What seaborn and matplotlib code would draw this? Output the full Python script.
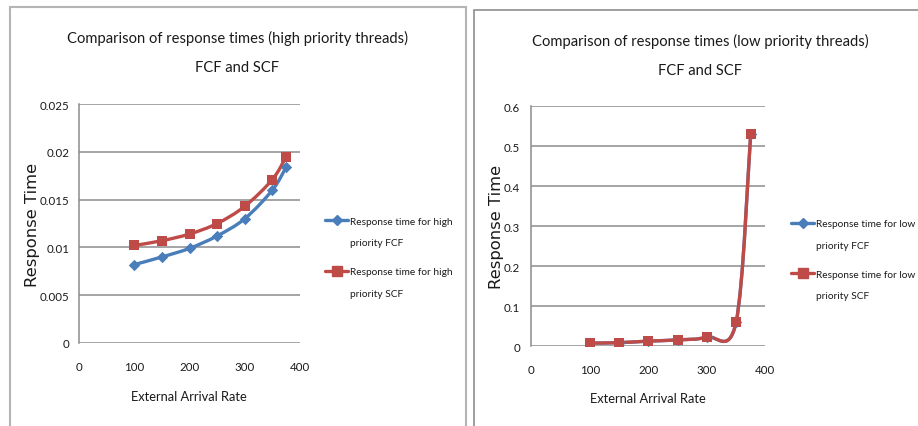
import matplotlib
matplotlib.use("Agg")
import matplotlib.pyplot as plt
from matplotlib.path import Path
from matplotlib.patches import PathPatch, Rectangle
from matplotlib.lines import Line2D
import seaborn as sns
import pandas as pd

# Arrival rates shared by both charts
arrival_rate = [100, 150, 200, 250, 300, 350, 375]

# High priority threads
high_fcf = [0.0082, 0.0090, 0.0099, 0.0112, 0.0130, 0.0160, 0.0184]
high_scf = [0.0102, 0.0107, 0.0114, 0.0125, 0.0143, 0.0171, 0.0195]

# Low priority threads
low_fcf = [0.008, 0.009, 0.013, 0.016, 0.023, 0.060, 0.530]
low_scf = [0.008, 0.009, 0.013, 0.016, 0.023, 0.060, 0.530]

high_ticks = [0, 0.005, 0.01, 0.015, 0.02, 0.025]
high_tick_labels = ["0", "0.005", "0.01", "0.015", "0.02", "0.025"]
low_ticks = [0, 0.1, 0.2, 0.3, 0.4, 0.5, 0.6]
low_tick_labels = ["0", "0.1", "0.2", "0.3", "0.4", "0.5", "0.6"]
x_ticks = [0, 100, 200, 300, 400]

BLUE = "#4A7EBB"
RED = "#BE4B48"
GRID = "#8C8C8C"
TEXT = "#1A1A1A"

sns.set_theme(style="white")
NARROW = ["Lato", "DejaVu Sans"]
plt.rcParams["font.family"] = NARROW


def smooth_path(xs, ys):
    """Excel-style smoothed line: cubic Bezier segments through every point."""
    pts = list(zip(xs, ys))
    n = len(pts)
    verts = [pts[0]]
    codes = [Path.MOVETO]
    for i in range(n - 1):
        p0 = pts[i - 1] if i > 0 else pts[i]
        p1 = pts[i]
        p2 = pts[i + 1]
        p3 = pts[i + 2] if i + 2 < n else pts[i + 1]
        c1 = (p1[0] + (p2[0] - p0[0]) / 6, p1[1] + (p2[1] - p0[1]) / 6)
        c2 = (p2[0] - (p3[0] - p1[0]) / 6, p2[1] - (p3[1] - p1[1]) / 6)
        verts += [c1, c2, p2]
        codes += [Path.CURVE4] * 3
    return Path(verts, codes)


fig = plt.figure(figsize=(9.18, 4.27), dpi=100)
W, H = 918, 427


def fx(px):
    return px / W


def fy(py):
    return 1 - py / H


# Chart frames
fig.patches.append(Rectangle((fx(10), fy(440)), fx(465.5) - fx(10), fy(8) - fy(440),
                             transform=fig.transFigure, fill=False,
                             edgecolor="#B4B4B4", linewidth=1.5))
fig.patches.append(Rectangle((fx(473.5), fy(440)), fx(940) - fx(473.5), fy(11) - fy(440),
                             transform=fig.transFigure, fill=False,
                             edgecolor="#8E8E8E", linewidth=1.2))

LEG_FS = 7.3
legend_jobs = []


def draw_panel(rect, fcf, scf, yticks, ylabels, ymax, title, legend_lines,
               title_xy, legend_xy, ylab_xy, xlab_xy, ypad):
    ax = fig.add_axes(rect)
    df = pd.DataFrame({"rate": arrival_rate * 2,
                       "time": fcf + scf,
                       "series": ["FCF"] * len(fcf) + ["SCF"] * len(scf)})
    for ser, color in (("FCF", BLUE), ("SCF", RED)):
        sub = df[df["series"] == ser]
        ax.add_patch(PathPatch(smooth_path(sub["rate"].tolist(), sub["time"].tolist()),
                               fill=False, edgecolor=color, linewidth=2.4,
                               capstyle="round", joinstyle="round", zorder=3))
    sns.scatterplot(data=df[df["series"] == "FCF"], x="rate", y="time", ax=ax,
                    marker="D", s=34, color=BLUE, edgecolor=BLUE, linewidth=0,
                    zorder=4, legend=False)
    sns.scatterplot(data=df[df["series"] == "SCF"], x="rate", y="time", ax=ax,
                    marker="s", s=62, color=RED, edgecolor=RED, linewidth=0,
                    zorder=5, legend=False)

    ax.set_xlim(0, 400)
    ax.set_ylim(0, ymax)
    ax.set_xticks(x_ticks)
    ax.set_xticklabels([str(t) for t in x_ticks], fontsize=8.3, family=NARROW, color=TEXT)
    ax.set_yticks(yticks)
    ax.set_yticklabels(ylabels, fontsize=8.3, family=NARROW, color=TEXT)
    ax.tick_params(axis="both", length=0)
    ax.tick_params(axis="y", pad=ypad)
    ax.tick_params(axis="x", pad=13)
    for t in yticks:
        ax.axhline(t, color=GRID, linewidth=1.1, zorder=1)
    for side in ("top", "right", "bottom"):
        ax.spines[side].set_visible(False)
    ax.spines["left"].set_color(GRID)
    ax.spines["left"].set_linewidth(1.1)
    ax.set_xlabel("")
    ax.set_ylabel("")

    fig.text(fx(xlab_xy[0]), fy(xlab_xy[1]), "External Arrival Rate", ha="center",
             va="center", fontsize=9.3, family=NARROW, color=TEXT)
    fig.text(fx(ylab_xy[0]), fy(ylab_xy[1]), "Response Time", rotation=90, ha="center",
             va="center", fontsize=11.8, family=["DejaVu Sans"], color=TEXT)

    fig.text(fx(title_xy[0]), fy(title_xy[1]), title[0], ha="center", va="center",
             fontsize=10.6, family=NARROW, color=TEXT)
    fig.text(fx(title_xy[0]), fy(title_xy[1] + 30), title[1], ha="center", va="center",
             fontsize=10.6, family=NARROW, color=TEXT)

    # Legend: one entry per series, with the wrapped second line set beneath its label
    handles = [Line2D([], [], color=BLUE, linewidth=2.4, marker="D", markersize=5.5),
               Line2D([], [], color=RED, linewidth=2.4, marker="s", markersize=7.5)]
    leg = fig.legend(handles, [l[0] for l in legend_lines], loc="center left",
                     bbox_to_anchor=(fx(legend_xy[0]), fy(legend_xy[1])),
                     frameon=False, prop={"family": NARROW, "size": LEG_FS},
                     handlelength=2.3, handletextpad=0.15, labelspacing=4.1,
                     borderaxespad=0, borderpad=0)
    for t in leg.get_texts():
        t.set_color(TEXT)
    legend_jobs.append((leg, [l[1] for l in legend_lines]))
    return ax


draw_panel([fx(79), fy(344), fx(300) - fx(79), fy(105) - fy(344)],
           high_fcf, high_scf, high_ticks, high_tick_labels, 0.025,
           ("Comparison of response times (high priority threads)", "FCF and SCF"),
           [("Response time for high", "priority FCF"),
            ("Response time for high", "priority SCF")],
           (237, 38), (325, 247.5), (32, 225), (189, 397), 7)

draw_panel([fx(531.3), fy(347.3), fx(765.3) - fx(531.3), fy(107.3) - fy(347.3)],
           low_fcf, low_scf, low_ticks, low_tick_labels, 0.6,
           ("Comparison of response times (low priority threads)", "FCF and SCF"),
           [("Response time for low", "priority FCF"),
            ("Response time for low", "priority SCF")],
           (700, 41), (791, 250), (496, 227), (648, 399), 8)

fig.canvas.draw()
for leg, second in legend_jobs:
    for t, s in zip(leg.get_texts(), second):
        bb = t.get_window_extent()
        fig.text(bb.x0 / W, (bb.y0 + bb.y1) / 2 / H - 21.5 / H, s, ha="left", va="center",
                 fontsize=LEG_FS, family=NARROW, color=TEXT)

fig.savefig("out.png", dpi=100)
